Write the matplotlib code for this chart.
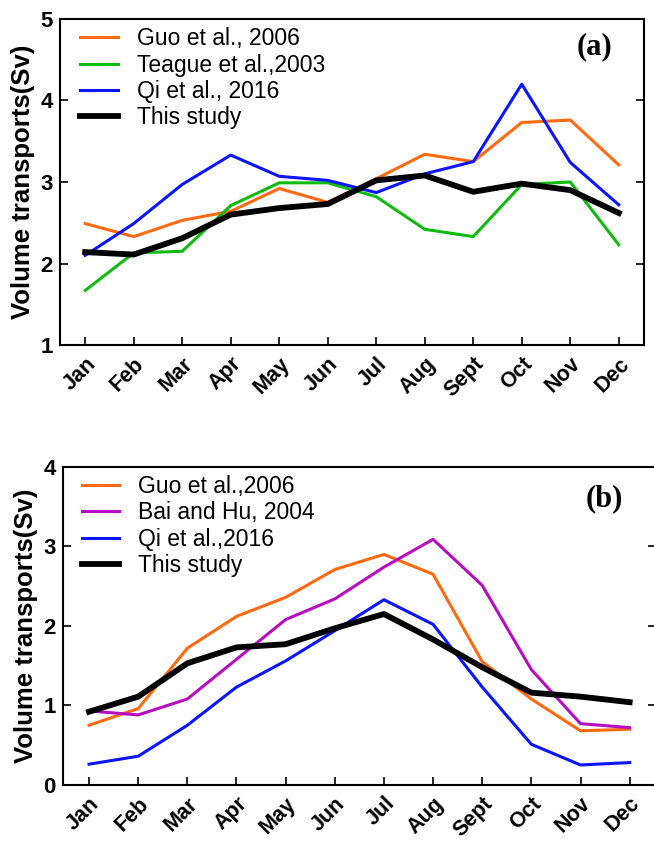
import numpy as np
import matplotlib.pyplot as plt

months = ['Jan', 'Feb', 'Mar', 'Apr', 'May', 'Jun', 'Jul', 'Aug', 'Sept', 'Oct', 'Nov', 'Dec']

# panel (a)
guo_a = [2.49, 2.33, 2.53, 2.64, 2.92, 2.75, 3.04, 3.34, 3.25, 3.73, 3.76, 3.21]
teague_a = [1.67, 2.13, 2.15, 2.71, 2.99, 2.99, 2.82, 2.42, 2.33, 2.97, 3.00, 2.23]
qi_a = [2.10, 2.49, 2.97, 3.33, 3.07, 3.02, 2.87, 3.10, 3.25, 4.20, 3.24, 2.72]
study_a = [2.14, 2.11, 2.31, 2.60, 2.68, 2.73, 3.02, 3.08, 2.88, 2.98, 2.90, 2.62]

# panel (b)
guo_b = [0.75, 0.96, 1.72, 2.12, 2.36, 2.71, 2.90, 2.65, 1.55, 1.08, 0.68, 0.70]
bai_b = [0.93, 0.88, 1.08, 1.58, 2.08, 2.34, 2.74, 3.09, 2.51, 1.45, 0.77, 0.72]
qi_b = [0.26, 0.36, 0.75, 1.23, 1.56, 1.94, 2.33, 2.02, 1.23, 0.51, 0.25, 0.28]
study_b = [0.92, 1.11, 1.53, 1.73, 1.77, 1.97, 2.15, 1.83, 1.48, 1.16, 1.11, 1.04]

ORANGE = '#ff6a10'
GREEN = '#10bb10'
BLUE = '#0a14ff'
MAGENTA = '#b80cc0'

plt.rcParams['font.family'] = ['Liberation Sans', 'DejaVu Sans']

fig = plt.figure(figsize=(6.54, 8.43), dpi=100)
ax1 = fig.add_axes([0.0917, 0.5907, 0.893, 0.3868])
ax2 = fig.add_axes([0.0956, 0.069, 0.907, 0.377])

x = np.arange(len(months))


def style(ax, ylim, yticks, xlim):
    ax.set_xlim(*xlim)
    ax.set_ylim(*ylim)
    ax.set_yticks(yticks)
    ax.set_xticks(x)
    ax.set_xticklabels(months, rotation=45, ha='right', rotation_mode='anchor',
                       fontsize=15.5, fontweight='bold')
    for lab in ax.get_yticklabels():
        lab.set_fontsize(16)
        lab.set_fontweight('bold')
    ax.tick_params(axis='both', direction='in', length=6, width=1.2)
    ax.tick_params(axis='y', right=True, pad=5)
    ax.tick_params(axis='x', pad=6)
    for s in ax.spines.values():
        s.set_linewidth(1.5)
    ax.set_ylabel('Volume transports(Sv)', fontsize=18.5, fontweight='bold', labelpad=4)


ax1.plot(x, guo_a, color=ORANGE, lw=2.2, label='Guo et al., 2006')
ax1.plot(x, teague_a, color=GREEN, lw=2.2, label='Teague et al.,2003')
ax1.plot(x, qi_a, color=BLUE, lw=2.2, label='Qi et al., 2016')
ax1.plot(x, study_a, color='black', lw=4.2, label='This study')
style(ax1, (1, 5), [1, 2, 3, 4, 5], (-0.52, 11.52))
ax1.legend(loc='upper left', bbox_to_anchor=(0.035, 0.975), frameon=False,
           fontsize=16.5, handlelength=1.65, handletextpad=0.8, labelspacing=0.15,
           borderpad=0, borderaxespad=0)
ax1.text(0.915, 0.915, '(a)', transform=ax1.transAxes, ha='center', va='center',
         fontsize=22, fontweight='bold', family='Liberation Serif')

ax2.plot(x, guo_b, color=ORANGE, lw=2.2, label='Guo et al.,2006')
ax2.plot(x, bai_b, color=MAGENTA, lw=2.2, label='Bai and Hu, 2004')
ax2.plot(x, qi_b, color=BLUE, lw=2.2, label='Qi et al.,2016')
ax2.plot(x, study_b, color='black', lw=4.2, label='This study')
style(ax2, (0, 4), [0, 1, 2, 3, 4], (-0.54, 11.53))
ax2.spines['right'].set_visible(False)
ax2.legend(loc='upper left', bbox_to_anchor=(0.032, 0.975), frameon=False,
           fontsize=16.5, handlelength=1.65, handletextpad=0.8, labelspacing=0.15,
           borderpad=0, borderaxespad=0)
ax2.text(0.913, 0.9, '(b)', transform=ax2.transAxes, ha='center', va='center',
         fontsize=22, fontweight='bold', family='Liberation Serif')

fig.savefig('out.png', dpi=100)
